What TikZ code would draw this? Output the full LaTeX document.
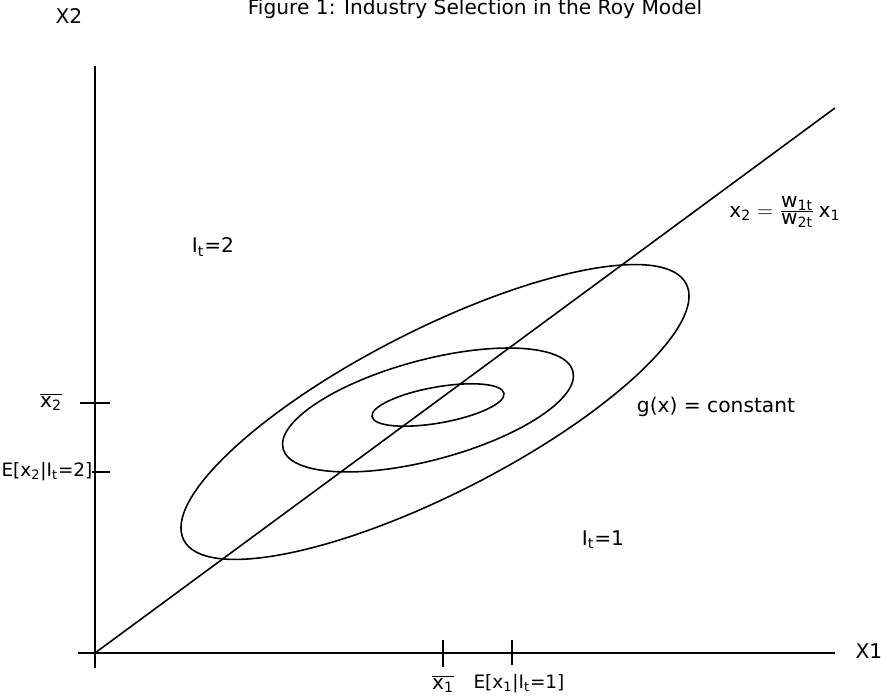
\documentclass[tikz,border=0pt]{standalone}
\usepackage{fontspec}
\setmainfont{DejaVu Sans}
\newcommand\sub[1]{\textsubscript{#1}}
\begin{document}
\begin{tikzpicture}[x=0.02cm, y=0.02cm, every node/.style={font=\fontsize{11.5}{13}\selectfont}]
  \tikzset{axis/.style={line width=0.9pt}, curve/.style={line width=0.9pt}}
  \useasboundingbox (0,0) rectangle (887,699);
  % axes
  \coordinate (o) at (95,46);
  \coordinate (ytop) at (95,633);
  \coordinate (ybot) at (95,31);
  \coordinate (xl) at (78,46);
  \coordinate (xr) at (835,46);
  \coordinate (lend) at (835,591);
  \draw[axis] (ybot) -- (ytop);
  \draw[axis] (xl) -- (xr);
  \draw[axis] (o) -- (lend);
  % contours of g(x)
  \draw[curve, rotate around={27:(435,287)}] (435,287) ellipse [x radius=282, y radius=82];
  \draw[curve, rotate around={15:(428,289)}] (428,289) ellipse [x radius=150, y radius=50];
  \draw[curve, rotate around={10:(438,294)}] (438,294) ellipse [x radius=67, y radius=18];
  % ticks
  \coordinate (t2a) at (80,296);  \coordinate (t2b) at (110,296);
  \coordinate (e2a) at (92,227);  \coordinate (e2b) at (110,227);
  \coordinate (t1a) at (443,59);  \coordinate (t1b) at (443,32);
  \coordinate (e1a) at (512,59);  \coordinate (e1b) at (512,34);
  \draw[axis] (t2a) -- (t2b);
  \draw[axis] (e2a) -- (e2b);
  \draw[axis] (t1a) -- (t1b);
  \draw[axis] (e1a) -- (e1b);
  % labels
  \node (title) at (475,690) {Figure 1: Industry Selection in the Roy Model};
  \node (x2lab) at (69,683) {X2};
  \node (x1lab) at (869,48) {X1};
  \node (xbar2) at (51,297) {$\overline{\mbox{x\sub{2}}}$};
  \node[font=\fontsize{10.5}{12}\selectfont] (ex2) at (47,227) {E[x\sub{2}|I\sub{t}=2]};
  \node (xbar1) at (443,15) {$\overline{\mbox{x\sub{1}}}$};
  \node[font=\fontsize{10.5}{12}\selectfont] (ex1) at (519,15) {E[x\sub{1}|I\sub{t}=1]};
  \node (reg2) at (213,452) {I\sub{t}=2};
  \node (reg1) at (603,159) {I\sub{t}=1};
  \node (gx) at (716,292) {g(x) = constant};
  \node (eq) at (785,487) {$\mbox{x\sub{2}}=\frac{\mbox{w\sub{1t}}}{\mbox{w\sub{2t}}}\,\mbox{x\sub{1}}$};
\end{tikzpicture}
\end{document}
